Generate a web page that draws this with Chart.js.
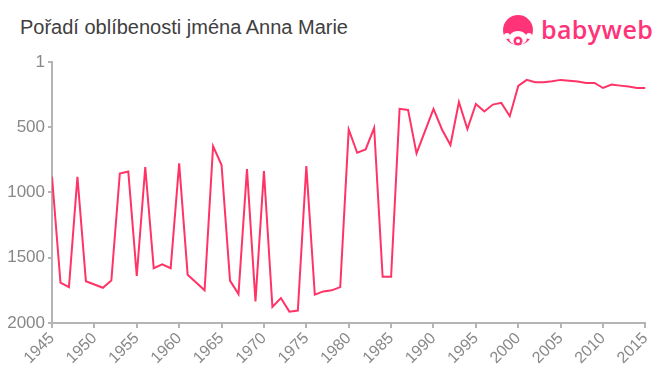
<!DOCTYPE html>
<html>
<head>
<meta charset="utf-8">
<script src="https://cdn.jsdelivr.net/npm/chart.js@4/dist/chart.umd.min.js"></script>
<style>
  body { margin: 0; background: #fff; }
  #wrap { position: relative; width: 660px; height: 375px; overflow: hidden; }
  #title { position: absolute; left: 20px; top: 16px; font: 20px "Liberation Sans", Arial, sans-serif; color: #404040; white-space: nowrap; }
  #logo { position: absolute; left: 502px; top: 14px; }
  #logotext { position: absolute; left: 541px; top: 12px; font: 600 25px "Open Sans", sans-serif; color: #ff3377; letter-spacing: 0.4px; }
  canvas { position: absolute; left: 0; top: 0; }
</style>
</head>
<body>
<div id="wrap">
  <div id="title">Pořadí oblíbenosti jména Anna Marie</div>
  <svg id="logo" width="34" height="34" viewBox="0 0 34 34">
    <circle cx="16" cy="16" r="15" fill="#ff3377"/>
    <ellipse cx="16" cy="24" rx="9" ry="7" fill="#fff"/>
    <circle cx="16" cy="27" r="4.5" fill="#ff3377"/>
    <circle cx="16" cy="27" r="2" fill="#fff"/>
    <circle cx="5" cy="22" r="3" fill="#fff"/>
    <circle cx="27" cy="22" r="3" fill="#fff"/>
  </svg>
  <div id="logotext">babyweb</div>
  <canvas id="myChart" width="660" height="375"></canvas>
</div>
<script>
// years and rank of the name (1 = most popular)
var years = [1945, 1946, 1947, 1948, 1949, 1950, 1951, 1952, 1953, 1954,
  1955, 1956, 1957, 1958, 1959, 1960, 1961, 1962, 1963, 1964,
  1965, 1966, 1967, 1968, 1969, 1970, 1971, 1972, 1973, 1974,
  1975, 1976, 1977, 1978, 1979, 1980, 1981, 1982, 1983, 1984,
  1985, 1986, 1987, 1988, 1989, 1990, 1991, 1992, 1993, 1994,
  1995, 1996, 1997, 1998, 1999, 2000, 2001, 2002, 2003, 2004,
  2005, 2006, 2007, 2008, 2009, 2010, 2011, 2012, 2013, 2014, 2015];

var ranks = [880, 1690, 1725, 880, 1680, 1705, 1730, 1675, 855, 840,
  1640, 805, 1580, 1550, 1580, 778, 1630, 1690, 1750, 645,
  790, 1675, 1778, 821, 1834, 836, 1877, 1809, 1913, 1905,
  798, 1783, 1758, 1750, 1725, 518, 696, 671, 505, 1646,
  1646, 360, 368, 701, 531, 360, 518, 637, 307, 515,
  322, 380, 327, 314, 416, 184, 138, 156, 156, 149,
  138, 144, 151, 161, 161, 200, 174, 182, 189, 200, 200];

var yTicks = [1, 500, 1000, 1500, 2000];

var points = years.map(function(yr, i){ return {x: yr, y: ranks[i]} });

var axisGrey = '#b4b4b4';
var labelGrey = '#888888';

let ctxDir = document.getElementById("myChart");
var lineChart = new Chart(ctxDir, {
  type: 'line',
  data: {
    datasets: [{
      label: 'Anna Marie',
      data: points,
      borderColor: '#ff3366',
      borderWidth: 2,
      pointRadius: 0,
      tension: 0,
      fill: false
    }]
  },
  options: {
    responsive: false,
    animation: false,
    layout: { padding: { top: 62, right: 14, left: 0, bottom: 0 } },
    plugins: { legend: { display: false }, tooltip: { enabled: false } },
    scales: {
      x: {
        type: 'linear',
        min: 1945,
        max: 2015,
        afterFit: function(scale){ scale.height = 52 },
        grid: { drawOnChartArea: false, drawTicks: true, tickLength: 5, color: axisGrey, lineWidth: 2 },
        border: { color: axisGrey, width: 2 },
        ticks: {
          stepSize: 5,
          minRotation: 45,
          maxRotation: 45,
          padding: 1,
          color: labelGrey,
          font: { family: '"Liberation Sans", Arial, sans-serif', size: 16 },
          callback: function(v){ return String(v) }
        }
      },
      y: {
        reverse: true,
        min: 1,
        max: 2000,
        afterBuildTicks: function(scale){
          scale.ticks = yTicks.map(function(v){ return {value: v} })
        },
        afterFit: function(scale){ scale.width = 52 },
        grid: { drawOnChartArea: false, drawTicks: true, tickLength: 4, color: axisGrey, lineWidth: 2 },
        border: { color: axisGrey, width: 2 },
        ticks: {
          padding: 3,
          color: labelGrey,
          font: { family: '"Liberation Sans", Arial, sans-serif', size: 17 },
          callback: function(v){ return String(v) }
        }
      }
    }
  }
});
</script>
</body>
</html>
